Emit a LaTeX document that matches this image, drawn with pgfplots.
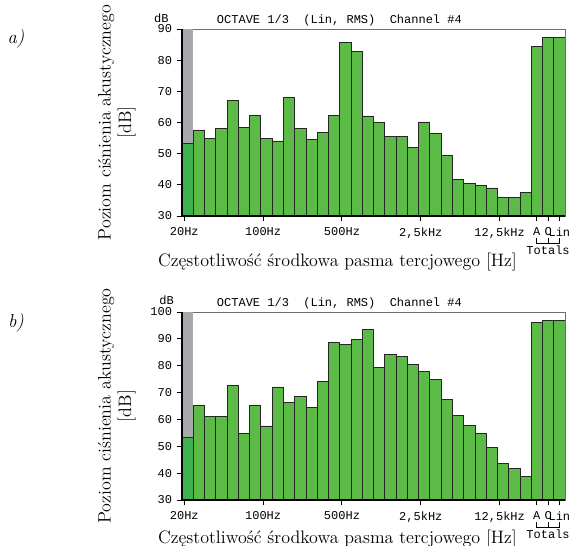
\documentclass[border=0pt]{standalone}
\usepackage{fontspec}
\setmonofont{Liberation Mono}
\usepackage{pgfplots}
\pgfplotsset{compat=1.18}
\definecolor{barGreen}{RGB}{92,186,71}
\definecolor{firstGreen}{RGB}{61,176,80}
\definecolor{greyBg}{RGB}{168,169,173}
\definecolor{frameGrey}{RGB}{110,110,110}

\pgfplotstableread{
x y
1 57.6
2 54.9
3 58.1
4 67.0
5 58.5
6 62.3
7 55.0
8 54.1
9 68.1
10 58.2
11 54.5
12 56.7
13 62.2
14 85.6
15 82.8
16 62.1
17 60.1
18 55.5
19 55.5
20 51.9
21 60.2
22 56.6
23 49.3
24 41.6
25 40.5
26 39.7
27 39.0
28 36.0
29 36.0
30 37.5
31 84.4
32 87.2
33 87.2
}\dataA

\pgfplotstableread{
x y
1 65.2
2 61.1
3 61.1
4 72.6
5 54.9
6 65.2
7 57.6
8 72.1
9 66.4
10 68.6
11 64.5
12 74.2
13 88.8
14 87.9
15 89.7
16 93.6
17 79.4
18 84.3
19 83.6
20 80.6
21 77.9
22 75.0
23 67.5
24 61.5
25 57.9
26 54.8
27 49.6
28 43.7
29 41.7
30 38.7
31 96.0
32 97.0
33 97.0
}\dataB

\newcommand{\monofont}{\ttfamily\fontsize{9}{9}\selectfont}

\pgfplotsset{
  octstyle/.style={
    scale only axis,
    width=287.25pt,
    anchor=south west,
    xmin=-0.5, xmax=33.5, ymin=30,
    ybar, bar width=1, bar shift=0pt,
    xtick={-0.3,6.7,13.7,20.7,27.7,31,32,33},
    xticklabels={20Hz,100Hz,500Hz,{2,5kHz},{12,5kHz},A,C,Lin},
    ytick distance=10,
    tick align=outside, tick pos=left,
    major tick length=4pt,
    tick style={black, line width=0.7pt},
    ticklabel style={font=\monofont, text=black},
    xticklabel style={yshift=-1pt},
    /pgf/number format/assume math mode=true,
    axis line style={frameGrey, line width=0.4pt},
    xlabel style={font=\fontsize{13.5}{15}\selectfont, anchor=center},
    ylabel style={font=\fontsize{13.5}{15.5}\selectfont, anchor=center, align=center},
    ylabel={Poziom ciśnienia akustycznego\\{[dB]}},
    xlabel={Częstotliwość środkowa pasma tercjowego [Hz]},
    every axis plot/.append style={draw=black!85, line width=0.55pt},
    after end axis/.append code={
      \draw[black, line width=1.3pt] (rel axis cs:0,1) -- (rel axis cs:0,0) -- (rel axis cs:1,0);
      \draw[black, line width=0.6pt] ([yshift=-16.5pt]axis cs:31,\pgfkeysvalueof{/pgfplots/ymin}) -- ++(0,-3.8pt) -| ([yshift=-16.5pt]axis cs:33,\pgfkeysvalueof{/pgfplots/ymin});
      \draw[black, line width=0.6pt] ([yshift=-16.5pt]axis cs:32,\pgfkeysvalueof{/pgfplots/ymin}) -- ++(0,-3.8pt);
      \node[font=\monofont, text=black] at ([yshift=-26pt]axis cs:32,\pgfkeysvalueof{/pgfplots/ymin}) {Totals};
    },
  }
}

\begin{document}
\begin{tikzpicture}
\useasboundingbox (0pt,0pt) rectangle (432pt,409.5pt);

\node[font=\itshape\fontsize{14}{14}\selectfont] at (12pt,380.25pt) {a)};
\node[font=\itshape\fontsize{14}{14}\selectfont] at (12pt,167pt) {b)};

% panel a
\begin{axis}[octstyle,
  at={(136.5pt,247.5pt)}, height=140.25pt, ymax=90,
  xlabel style={at={(axis description cs:0.406,-0.246)}},
  ylabel style={at={(axis description cs:-0.170,0.5)}},
  extra description/.code={
    \node[font=\monofont, text=black, inner sep=1pt] at (axis description cs:-0.054,1.056) {dB};
    \node[font=\monofont, text=black, anchor=center] at (axis description cs:0.411,1.048) {OCTAVE 1/3\ \ (Lin, RMS)\ \ Channel \#4};
  },
]
\addplot[fill=greyBg, draw=none] coordinates {(0,90)};
\addplot[fill=firstGreen] coordinates {(0,53.2)};
\addplot[fill=barGreen] table[x=x,y=y] {\dataA};
\end{axis}

% panel b
\begin{axis}[octstyle,
  at={(136.5pt,34.5pt)}, height=141pt, ymax=100,
  xlabel style={at={(axis description cs:0.406,-0.207)}},
  ylabel style={at={(axis description cs:-0.170,0.5)}},
  extra description/.code={
    \node[font=\monofont, text=black, inner sep=1pt] at (axis description cs:-0.04,1.064) {dB};
    \node[font=\monofont, text=black, anchor=center] at (axis description cs:0.411,1.046) {OCTAVE 1/3\ \ (Lin, RMS)\ \ Channel \#4};
  },
]
\addplot[fill=greyBg, draw=none] coordinates {(0,100)};
\addplot[fill=firstGreen] coordinates {(0,53.3)};
\addplot[fill=barGreen] table[x=x,y=y] {\dataB};
\end{axis}
\end{tikzpicture}
\end{document}
